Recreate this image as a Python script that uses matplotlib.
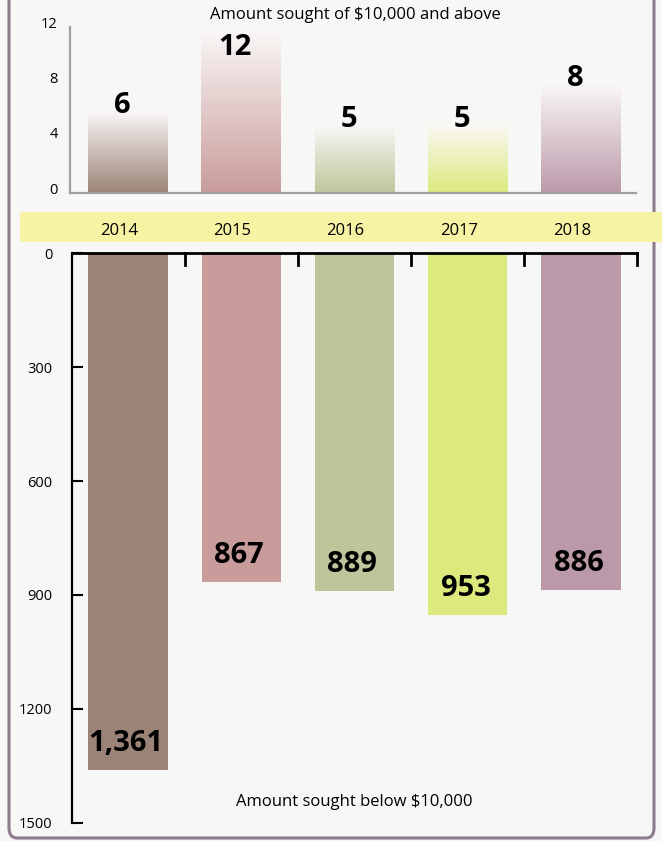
import numpy as np
import matplotlib.pyplot as plt
import matplotlib.transforms as mtrans
from matplotlib.colors import LinearSegmentedColormap, to_rgb
from matplotlib.patches import FancyBboxPatch, Rectangle

plt.rcParams['font.family'] = ['Open Sans', 'DejaVu Sans']

# Dados
anos = ['2014', '2015', '2016', '2017', '2018']
acima_10k = [6, 12, 5, 5, 8]
abaixo_10k = [1361, 867, 889, 953, 886]
rotulos_abaixo = ['1,361', '867', '889', '953', '886']
cores = ['#9b8477', '#c89c9a', '#bfc59b', '#dce97c', '#bb99a9']

FUNDO = '#f7f7f5'
x = np.arange(len(anos))
largura = 0.70

fig = plt.figure(figsize=(6.62, 8.41), dpi=100)
fig.patch.set_facecolor(FUNDO)

# moldura arredondada (topo cortado)
moldura = FancyBboxPatch((9 / 662, 3 / 841), 645 / 662, 1.2,
                         boxstyle='round,pad=0,rounding_size=0.012',
                         transform=fig.transFigure, facecolor='none',
                         edgecolor='#8f7b8c', lw=2.2, clip_on=False)
fig.patches.append(moldura)

# faixa amarela dos anos
faixa = Rectangle((20 / 662, 1 - 242 / 841), 1, 30 / 841, transform=fig.transFigure,
                  facecolor='#f7f3a5', edgecolor='none')
fig.patches.append(faixa)

# ---- grafico de cima: $10,000 e acima ----
ax1 = fig.add_axes([70 / 662, 1 - 193 / 841, 566 / 662, 166 / 841])
ax1.set_facecolor('none')
for i, v in enumerate(acima_10k):
    c = np.array(to_rgb(cores[i]))
    cmap = LinearSegmentedColormap.from_list('g%d' % i, [c, (0.985, 0.975, 0.975)])
    grad = np.linspace(0, 1, 256).reshape(-1, 1)
    ax1.imshow(grad, cmap=cmap, aspect='auto', origin='lower',
               extent=(i - largura / 2, i + largura / 2, 0, v), zorder=2)
    y_rot = min(v + 0.3, 10.5)
    ax1.text(i - 0.05, y_rot, str(v), ha='center', va='center',
             fontsize=21, fontweight='bold', color='black', zorder=3)
ax1.set_xlim(-0.51, 4.49)
ax1.set_ylim(0, 12)
ax1.set_yticks([0, 4, 8, 12])
ax1.tick_params(axis='y', length=0, pad=9, labelsize=10.5)
desloc = mtrans.ScaledTranslation(0, 5 / 100, fig.dpi_scale_trans)
for lbl in ax1.get_yticklabels():
    lbl.set_transform(lbl.get_transform() + desloc)
ax1.set_xticks([])
for s in ['top', 'right']:
    ax1.spines[s].set_visible(False)
for s in ['left', 'bottom']:
    ax1.spines[s].set_color('#a0a0a0')
    ax1.spines[s].set_linewidth(1.6)
fig.text(355 / 662, 1 - 15 / 841, 'Amount sought of $10,000 and above',
         ha='center', va='center', fontsize=12)

# rotulos dos anos
for i, ano in enumerate(anos):
    fig.text((128 + 113.25 * i - 9) / 662, 1 - 231 / 841, ano,
             ha='center', va='center', fontsize=12)

# ---- grafico de baixo: abaixo de $10,000 ----
ax2 = fig.add_axes([72 / 662, 1 - 823 / 841, 565 / 662, 570 / 841])
ax2.set_facecolor('none')
ax2.bar(x, abaixo_10k, width=largura, color=cores, zorder=2)
ax2.set_xlim(-0.494, 4.494)
ax2.set_ylim(1500, 0)
for i, v in enumerate(abaixo_10k):
    ax2.text(i - 0.02, v - 70, rotulos_abaixo[i], ha='center', va='center',
             fontsize=21, fontweight='bold', color='black', zorder=3)
ax2.set_yticks(np.arange(0, 1501, 300))
ax2.tick_params(axis='y', direction='in', length=8, width=1.5, pad=14,
                labelsize=10.5)
ax2.set_xticks([])
for s in ['right', 'bottom']:
    ax2.spines[s].set_visible(False)
ax2.spines['left'].set_linewidth(1.6)
ax2.spines['top'].set_linewidth(2)
# marcas no eixo de cima
for xm in [0.5, 1.5, 2.5, 3.5, 4.494]:
    ax2.plot([xm, xm], [0, 32], color='black', lw=2, clip_on=False, zorder=3)
ax2.text(2.0, 1445, 'Amount sought below $10,000', ha='center', va='center',
         fontsize=12)

fig.savefig('out.png', dpi=100, facecolor=FUNDO)
